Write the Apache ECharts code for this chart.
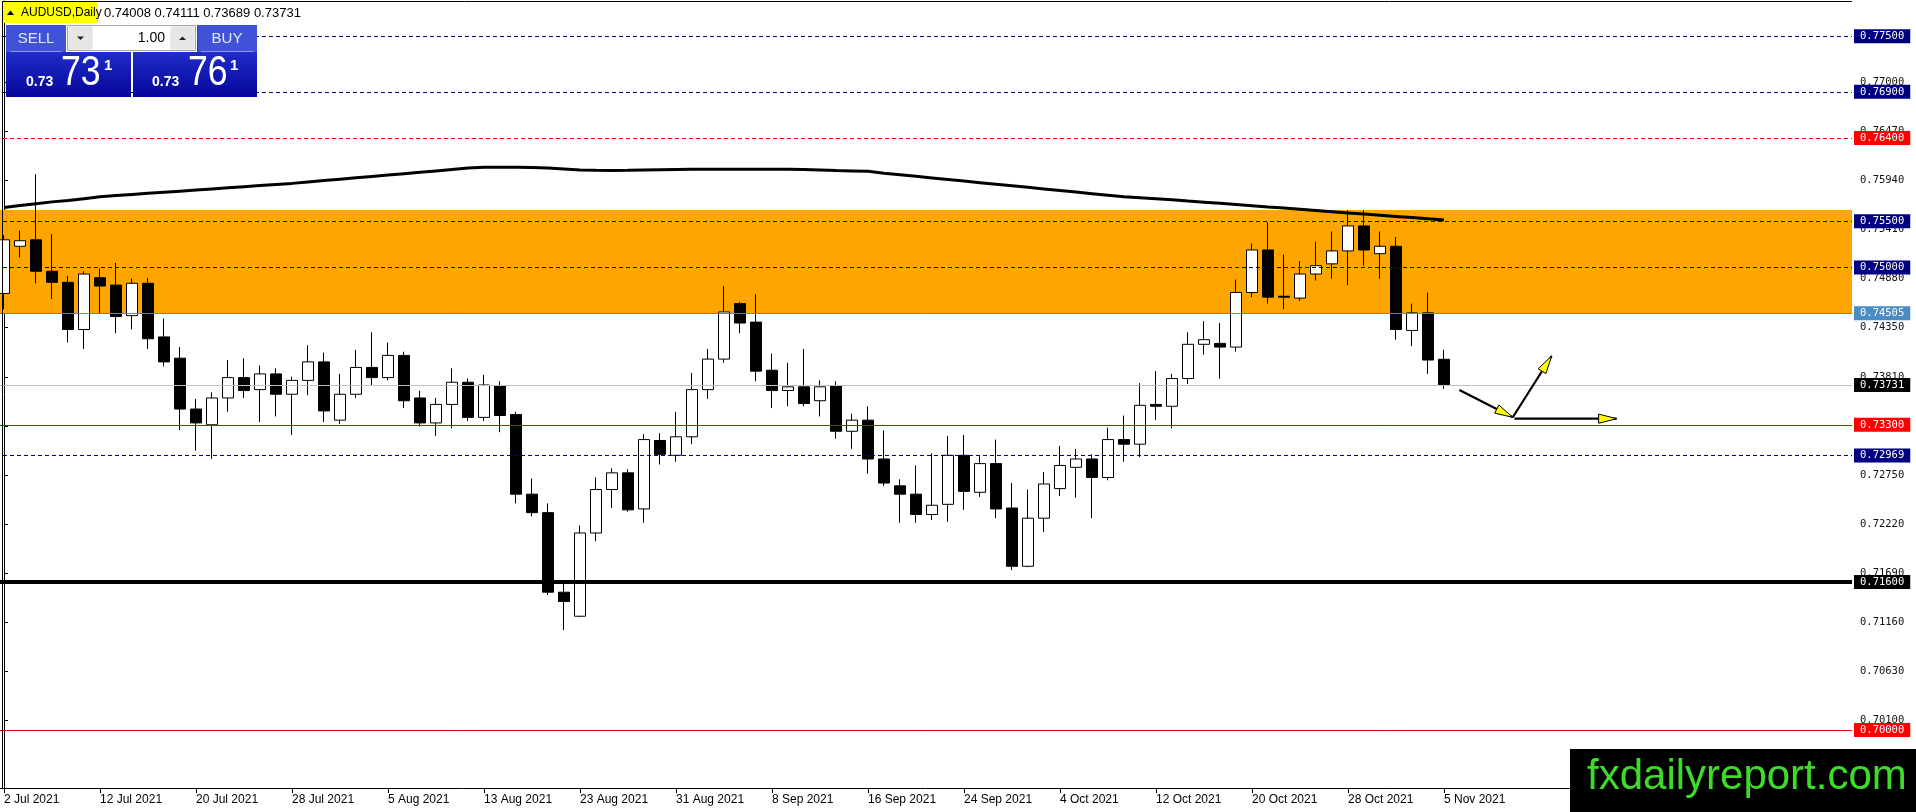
<!DOCTYPE html>
<html><head><meta charset="utf-8">
<script src="https://cdn.jsdelivr.net/npm/echarts@6/dist/echarts.min.js"></script>
<style>html,body{margin:0;padding:0;background:#fff;overflow:hidden}#c{width:1916px;height:812px}</style>
</head><body><div id="c"></div>
<script>
// ---------- data ----------
const tradingDates = [
 '2 Jul 2021','5 Jul 2021','6 Jul 2021','7 Jul 2021','8 Jul 2021','9 Jul 2021','12 Jul 2021','13 Jul 2021','14 Jul 2021','15 Jul 2021','16 Jul 2021','19 Jul 2021','20 Jul 2021','21 Jul 2021','22 Jul 2021','23 Jul 2021','26 Jul 2021','27 Jul 2021','28 Jul 2021','29 Jul 2021','30 Jul 2021',
 '2 Aug 2021','3 Aug 2021','4 Aug 2021','5 Aug 2021','6 Aug 2021','9 Aug 2021','10 Aug 2021','11 Aug 2021','12 Aug 2021','13 Aug 2021','16 Aug 2021','17 Aug 2021','18 Aug 2021','19 Aug 2021','20 Aug 2021','23 Aug 2021','24 Aug 2021','25 Aug 2021','26 Aug 2021','27 Aug 2021','30 Aug 2021','31 Aug 2021',
 '1 Sep 2021','2 Sep 2021','3 Sep 2021','6 Sep 2021','7 Sep 2021','8 Sep 2021','9 Sep 2021','10 Sep 2021','13 Sep 2021','14 Sep 2021','15 Sep 2021','16 Sep 2021','17 Sep 2021','20 Sep 2021','21 Sep 2021','22 Sep 2021','23 Sep 2021','24 Sep 2021','27 Sep 2021','28 Sep 2021','29 Sep 2021','30 Sep 2021',
 '1 Oct 2021','4 Oct 2021','5 Oct 2021','6 Oct 2021','7 Oct 2021','8 Oct 2021','11 Oct 2021','12 Oct 2021','13 Oct 2021','14 Oct 2021','15 Oct 2021','18 Oct 2021','19 Oct 2021','20 Oct 2021','21 Oct 2021','22 Oct 2021','25 Oct 2021','26 Oct 2021','27 Oct 2021','28 Oct 2021','29 Oct 2021',
 '1 Nov 2021','2 Nov 2021','3 Nov 2021','4 Nov 2021','5 Nov 2021'
];
const futureBars = 25; // empty space on the right of the chart

const opens = [
 0.7472,0.7523,0.7530,0.7496,0.7484,0.7433,0.7489,0.7481,0.7448,0.7483,
 0.7425,0.7402,0.7347,0.7330,0.7359,0.7381,0.7368,0.7385,0.7363,0.7378,
 0.7398,0.7335,0.7363,0.7392,0.7381,0.7405,0.7359,0.7332,0.7352,0.7376,
 0.7338,0.7372,0.7341,0.7255,0.7235,0.7149,0.7123,0.7213,0.7260,0.7278,
 0.7239,0.7313,0.7297,0.7317,0.7368,0.7401,0.7461,0.7441,0.7389,0.7367,
 0.7371,0.7356,0.7372,0.7323,0.7335,0.7293,0.7264,0.7255,0.7233,0.7244,
 0.7297,0.7257,0.7288,0.7240,0.7177,0.7229,0.7261,0.7284,0.7293,0.7273,
 0.7314,0.7309,0.7352,0.7350,0.7380,0.7417,0.7418,0.7414,0.7473,0.7519,
 0.7469,0.7467,0.7493,0.7504,0.7518,0.7545,0.7515,0.7523,0.7432,0.7451,
 0.74008
];
const highs = [
 0.7535,0.7540,0.7601,0.7536,0.7491,0.7496,0.7499,0.7505,0.7488,0.7489,
 0.7445,0.7414,0.7358,0.7365,0.7400,0.7402,0.7394,0.7391,0.7382,0.7416,
 0.7408,0.7385,0.7411,0.7430,0.7419,0.7409,0.7367,0.7359,0.7391,0.7380,
 0.7384,0.7377,0.7344,0.7272,0.7245,0.7158,0.7221,0.7273,0.7283,0.7282,
 0.7320,0.7321,0.7344,0.7386,0.7412,0.7480,0.7463,0.7471,0.7407,0.7397,
 0.7412,0.7378,0.7377,0.7342,0.7350,0.7324,0.7271,0.7286,0.7299,0.7318,
 0.7319,0.7296,0.7314,0.7267,0.7260,0.7279,0.7307,0.7304,0.7298,0.7327,
 0.7340,0.7375,0.7388,0.7385,0.7430,0.7442,0.7440,0.7487,0.7526,0.7549,
 0.7514,0.7507,0.7528,0.7539,0.7562,0.7562,0.7539,0.7533,0.7461,0.7473,
 0.74111
];
const lows = [
 0.7455,0.7511,0.7483,0.7466,0.7419,0.7412,0.7451,0.7429,0.7433,0.7412,
 0.7393,0.7324,0.7302,0.7293,0.7344,0.7359,0.7333,0.7339,0.7319,0.7362,
 0.7333,0.7331,0.7359,0.7372,0.7378,0.7348,0.7328,0.7318,0.7326,0.7334,
 0.7334,0.7322,0.7245,0.7231,0.7146,0.7108,0.7122,0.7204,0.7240,0.7236,
 0.7224,0.7287,0.7290,0.7309,0.7358,0.7397,0.7429,0.7377,0.7348,0.7350,
 0.7350,0.7339,0.7315,0.7304,0.7277,0.7264,0.7224,0.7224,0.7227,0.7225,
 0.7238,0.7252,0.7229,0.7173,0.7176,0.7214,0.7253,0.7251,0.7229,0.7270,
 0.7290,0.7295,0.7335,0.7326,0.7374,0.7406,0.7380,0.7409,0.7468,0.7461,
 0.7455,0.7464,0.7486,0.7488,0.7481,0.7502,0.7488,0.7422,0.7415,0.7385,
 0.73689
];
const closes = [
 0.7530,0.7529,0.7496,0.7484,0.7433,0.7493,0.7480,0.7447,0.7483,0.7423,
 0.7398,0.7347,0.7332,0.7359,0.7381,0.7367,0.7385,0.7363,0.7378,0.7398,
 0.7345,0.7363,0.7392,0.7381,0.7405,0.7356,0.7332,0.7352,0.7376,0.7338,
 0.7373,0.7340,0.7255,0.7235,0.7149,0.7139,0.7213,0.7260,0.7278,0.7238,
 0.7314,0.7298,0.7317,0.7368,0.7401,0.7452,0.7440,0.7388,0.7367,0.7371,
 0.7353,0.7371,0.7323,0.7335,0.7293,0.7267,0.7255,0.7233,0.7243,0.7297,
 0.7258,0.7288,0.7239,0.7177,0.7229,0.7266,0.7286,0.7293,0.7273,0.7314,
 0.7309,0.7351,0.7350,0.7380,0.7417,0.7422,0.7414,0.7473,0.7519,0.7468,
 0.7468,0.7493,0.7502,0.7518,0.7545,0.7519,0.7523,0.7433,0.7451,0.7400,
 0.73731
];
// long moving average (black line)
const maLine = [
 0.75650,0.75670,0.75690,0.75710,0.75725,0.75745,0.75765,0.75778,0.75790,0.75802,
 0.75814,0.75826,0.75838,0.75850,0.75862,0.75874,0.75886,0.75898,0.75910,0.75925,
 0.75940,0.75955,0.75970,0.75985,0.76000,0.76015,0.76030,0.76045,0.76060,0.76075,
 0.76084,0.76084,0.76084,0.76082,0.76075,0.76065,0.76055,0.76052,0.76050,0.76052,
 0.76055,0.76058,0.76060,0.76062,0.76062,0.76062,0.76062,0.76062,0.76062,0.76062,
 0.76060,0.76055,0.76048,0.76044,0.76040,0.76020,0.76003,0.75986,0.75969,0.75952,
 0.75935,0.75918,0.75901,0.75884,0.75867,0.75850,0.75833,0.75816,0.75799,0.75782,
 0.75765,0.75755,0.75745,0.75732,0.75719,0.75707,0.75694,0.75681,0.75668,0.75655,
 0.75643,0.75630,0.75617,0.75604,0.75591,0.75578,0.75566,0.75553,0.75540,0.75527,
 0.75514
];
const levelValues = [0.77500, 0.76900, 0.76400, 0.75500, 0.75000, 0.74505, 0.73731, 0.73300, 0.72969, 0.71600, 0.70000];
const zoneRange = [0.74505, 0.75622];
const priceTicks = [0.70100, 0.70630, 0.71160, 0.71690, 0.72220, 0.72750, 0.73280, 0.73810, 0.74350, 0.74880, 0.75410, 0.75940, 0.76470, 0.77000];
// projected path arrows: [barIndex, price] pairs
const arrowPaths = [
 [[90.96, 0.73676], [94.30, 0.73381]],
 [[94.30, 0.73381], [96.73, 0.74044]],
 [[94.40, 0.73366], [100.79, 0.73366]]
];
const priceRange = [0.693728, 0.778819];

// ---------- styles ----------
const levelLook = [
 {c:'#000080', t:[4,3], w:1, bg:'#000080'},
 {c:'#000080', t:[4,3], w:1, bg:'#000080'},
 {c:'#ff0000', t:[4,3], w:1, bg:'#ff0000'},
 {c:'#000050', t:[4,3], w:1, bg:'#000080'},
 {c:'#000050', t:[4,3], w:1, bg:'#000080'},
 {c:'#5a84a8', t:'solid', w:1, bg:'#4a8cc4'},
 {c:'#c0c0c0', t:'solid', w:1, bg:'#000000'},
 {c:'#e00000', t:'solid', w:1, bg:'#ff0000'},
 {c:'#000080', t:[4,3], w:1, bg:'#000080'},
 {c:'#000000', t:'solid', w:4, bg:'#000000'},
 {c:'#e00000', t:'solid', w:1, bg:'#ff0000'}
];

const categories = tradingDates.concat(new Array(futureBars).fill(''));
const nCat = categories.length;
const lastLabelIdx = tradingDates.length - 1;
const candleData = opens.map((o, i) => [o, closes[i], lows[i], highs[i]]);
const showLabel = (idx) => idx % 6 === 0 && idx <= lastLabelIdx;

const chart = echarts.init(document.getElementById('c'), null, {renderer: 'canvas'});

const option = {
 animation: false,
 backgroundColor: '#ffffff',
 grid: {left: -4, right: 64, top: 1, bottom: 24, containLabel: false, outerBoundsMode: 'none'},
 xAxis: [
  {
   type: 'category', data: categories, boundaryGap: true, position: 'bottom',
   axisLine: {show: true, lineStyle: {color: '#000', width: 1}},
   axisTick: {show: true, interval: (i) => showLabel(i), alignWithLabel: true, length: 5, lineStyle: {color: '#000'}},
   axisLabel: {show: true, interval: (i) => showLabel(i), align: 'left', margin: 6,
     color: '#000', fontFamily: 'Liberation Sans', fontSize: 12},
   splitLine: {show: false}
  },
  {type: 'value', min: -0.5, max: nCat - 0.5, show: false, gridIndex: 0}
 ],
 yAxis: [{
  type: 'value', position: 'right', min: priceRange[0], max: priceRange[1],
  axisLine: {show: true, lineStyle: {color: '#000', width: 1}},
  axisTick: {show: true, length: 4, inside: false, customValues: priceTicks, lineStyle: {color: '#000'}},
  axisLabel: {show: true, customValues: priceTicks, margin: 8, color: '#111',
    fontFamily: 'DejaVu Sans Mono', fontSize: 10.5, formatter: (v) => v.toFixed(5)},
  splitLine: {show: false}
 }],
 series: [
  {
   name: 'AUDUSD', type: 'candlestick', xAxisIndex: 0, yAxisIndex: 0,
   data: candleData, barWidth: 11, z: 3,
   itemStyle: {color: '#ffffff', color0: '#000000', borderColor: '#000000', borderColor0: '#000000', borderColorDoji: '#000000', borderWidth: 1},
   markArea: {
    silent: true, z: 1,
    itemStyle: {color: '#ffa500'},
    data: [[{yAxis: zoneRange[0]}, {yAxis: zoneRange[1]}]]
   },
   markLine: {
    silent: true, symbol: ['none', 'none'], animation: false, z: 6, precision: 5,
    data: levelValues.map((v, i) => ({
     yAxis: v,
     lineStyle: {color: levelLook[i].c, type: levelLook[i].t, width: levelLook[i].w},
     label: {show: true, position: 'end', distance: 2, formatter: () => v.toFixed(5),
       color: '#ffffff', backgroundColor: levelLook[i].bg, padding: [1, 6, 1, 6],
       fontFamily: 'DejaVu Sans Mono', fontSize: 10.5, lineHeight: 12}
    }))
   }
  },
  {
   name: 'MA', type: 'line', xAxisIndex: 0, yAxisIndex: 0, data: maLine,
   showSymbol: false, symbol: 'none', z: 4, lineStyle: {color: '#000', width: 3}
  }
 ].concat(arrowPaths.map((p, k) => ({
   name: 'arrow' + k, type: 'line', xAxisIndex: 1, yAxisIndex: 0, data: p,
   symbol: 'none', z: 8, lineStyle: {color: '#000', width: 2.2}
 })))
};
chart.setOption(option);

// ---------- decorations (graphic) ----------
const firstArrowSeries = 2;
const heads = arrowPaths.map((p, k) => {
 const a = chart.convertToPixel({seriesIndex: firstArrowSeries + k}, p[0]);
 const b = chart.convertToPixel({seriesIndex: firstArrowSeries + k}, p[1]);
 const dx = b[0] - a[0], dy = b[1] - a[1];
 const len = Math.sqrt(dx * dx + dy * dy);
 const ux = dx / len, uy = dy / len;
 const L = 18, W = 4.6;
 const cx = b[0] - ux * L, cy = b[1] - uy * L;
 return {type: 'polygon', z: 90,
   shape: {points: [[b[0], b[1]], [cx - uy * W, cy + ux * W], [cx + uy * W, cy - ux * W]]},
   style: {fill: '#ffff00', stroke: '#000', lineWidth: 1}};
});

const last = opens.length - 1;
const ohlcText = [opens[last], highs[last], lows[last], closes[last]].map(v => v.toFixed(5)).join(' ');
const blueGrad = () => new echarts.graphic.LinearGradient(0, 0, 0, 1, [
 {offset: 0, color: '#3a48dc'}, {offset: 0.45, color: '#1c28c4'}, {offset: 1, color: '#06069a'}]);
const sans = '"Liberation Sans", Arial, sans-serif';

const deco = [
 // chart frame
 {type: 'line', z: 80, shape: {x1: 2.5, y1: 1, x2: 2.5, y2: 788}, style: {stroke: '#000', lineWidth: 1}},
 {type: 'line', z: 80, shape: {x1: 2, y1: 1.5, x2: 1852, y2: 1.5}, style: {stroke: '#000', lineWidth: 1}},
 // symbol header
 {type: 'rect', z: 100, shape: {x: 3, y: 2, width: 95, height: 21}, style: {fill: '#ffff00'}},
 {type: 'polygon', z: 101, shape: {points: [[7, 15], [14, 15], [10.5, 10.5]]}, style: {fill: '#000'}},
 {type: 'text', z: 101, x: 21, y: 13, style: {text: 'AUDUSD,Daily', font: '12px ' + sans, fill: '#000', verticalAlign: 'middle'}},
 {type: 'text', z: 101, x: 104, y: 13, style: {text: ohlcText, font: '13px ' + sans, fill: '#000', verticalAlign: 'middle'}},
 // SELL block
 {type: 'rect', z: 100, shape: {x: 6, y: 25, width: 125, height: 72}, style: {fill: blueGrad()}},
 {type: 'rect', z: 101, shape: {x: 6, y: 25, width: 60, height: 27}, style: {fill: '#4052d6'}},
 {type: 'line', z: 102, shape: {x1: 10, y1: 51.5, x2: 62, y2: 51.5}, style: {stroke: '#8c96ea', lineWidth: 1}},
 {type: 'text', z: 102, x: 36, y: 39, style: {text: 'SELL', font: '15px ' + sans, fill: '#e2e8ff', align: 'center', verticalAlign: 'middle'}},
 // BUY block
 {type: 'rect', z: 100, shape: {x: 133, y: 25, width: 124, height: 72}, style: {fill: blueGrad()}},
 {type: 'rect', z: 101, shape: {x: 198, y: 25, width: 59, height: 27}, style: {fill: '#4052d6'}},
 {type: 'line', z: 102, shape: {x1: 201, y1: 51.5, x2: 253, y2: 51.5}, style: {stroke: '#8c96ea', lineWidth: 1}},
 {type: 'text', z: 102, x: 227, y: 39, style: {text: 'BUY', font: '15px ' + sans, fill: '#e2e8ff', align: 'center', verticalAlign: 'middle'}},
 // lot spinner
 {type: 'rect', z: 103, shape: {x: 66, y: 24, width: 131, height: 28}, style: {fill: '#ffffff'}},
 {type: 'rect', z: 104, shape: {x: 67.5, y: 25.5, width: 128, height: 25}, style: {fill: '#f4f4f4', stroke: '#a8a8a8', lineWidth: 1}},
 {type: 'rect', z: 105, shape: {x: 68.5, y: 26.5, width: 24, height: 23}, style: {fill: '#e6e6e6'}},
 {type: 'rect', z: 105, shape: {x: 93, y: 26.5, width: 77, height: 23}, style: {fill: '#ffffff'}},
 {type: 'rect', z: 105, shape: {x: 170.5, y: 26.5, width: 24, height: 23}, style: {fill: '#e6e6e6'}},
 {type: 'polygon', z: 106, shape: {points: [[77, 36.5], [84, 36.5], [80.5, 40]]}, style: {fill: '#222'}},
 {type: 'polygon', z: 106, shape: {points: [[179, 40], [186, 40], [182.5, 36.5]]}, style: {fill: '#222'}},
 {type: 'text', z: 106, x: 165, y: 38.5, style: {text: '1.00', font: '14px ' + sans, fill: '#000', align: 'right', verticalAlign: 'middle'}},
 // SELL price
 {type: 'text', z: 102, x: 26, y: 82.5, style: {text: '0.73', font: 'bold 14px ' + sans, fill: '#fff', verticalAlign: 'middle'}},
 {type: 'text', z: 102, x: 61, y: 73.5, scaleX: 0.85, style: {text: '73', font: '42px ' + sans, fill: '#fff', verticalAlign: 'middle'}},
 {type: 'text', z: 102, x: 104, y: 66, style: {text: '1', font: 'bold 15px ' + sans, fill: '#fff', verticalAlign: 'middle'}},
 // BUY price
 {type: 'text', z: 102, x: 152, y: 82.5, style: {text: '0.73', font: 'bold 14px ' + sans, fill: '#fff', verticalAlign: 'middle'}},
 {type: 'text', z: 102, x: 188, y: 73.5, scaleX: 0.85, style: {text: '76', font: '42px ' + sans, fill: '#fff', verticalAlign: 'middle'}},
 {type: 'text', z: 102, x: 230, y: 66, style: {text: '1', font: 'bold 15px ' + sans, fill: '#fff', verticalAlign: 'middle'}},
 // watermark logo
 {type: 'rect', z: 120, shape: {x: 1570, y: 749, width: 346, height: 63}, style: {fill: '#000'}},
 {type: 'text', z: 121, x: 1587, y: 777, scaleX: 1.0, style: {text: 'fxdailyreport.com', font: '42px ' + sans, fill: '#3cdc28', verticalAlign: 'middle'}}
].concat(heads);

chart.setOption({graphic: {elements: deco}});
</script>
</body></html>
